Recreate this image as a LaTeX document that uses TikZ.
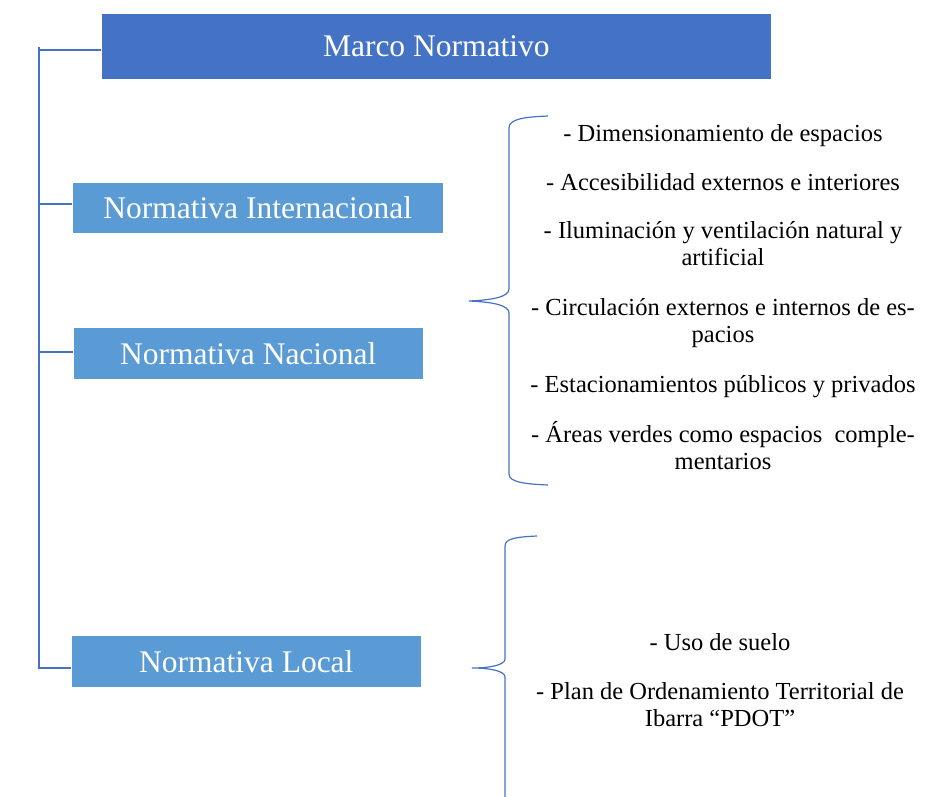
\documentclass[tikz,border=0pt]{standalone}
\usepackage{fontspec}
\setmainfont{Liberation Serif}
\usetikzlibrary{calc,positioning}
\definecolor{azulosc}{HTML}{4472C4}
\definecolor{azulcla}{HTML}{5B9BD5}

\begin{document}
\begin{tikzpicture}[x=1pt,y=-1pt,
		caja/.style={rectangle,fill=azulcla,draw=white,line width=0.6pt,text=white,inner sep=0pt,anchor=north west,font=\fontsize{31.5}{36}\selectfont},
		item/.style={align=center,anchor=base,font=\fontsize{24.5}{27}\selectfont},
		linea/.style={azulosc,line width=1.2pt}
	]
	\useasboundingbox (0,0) rectangle (945,797);
	% cajas
	\node[caja,fill=azulosc,minimum width=670pt,minimum height=66pt] (marco) at (101,13) {Marco Normativo};
	\node[caja,minimum width=371pt,minimum height=51pt] (inter) at (72,182) {Normativa Internacional};
	\node[caja,minimum width=350pt,minimum height=52pt] (nacio) at (73,327) {Normativa Nacional};
	\node[caja,minimum width=350pt,minimum height=52pt] (local) at (71,635) {Normativa Local};
	% tronco
	\coordinate (arriba) at (39,47);
	\coordinate (abajo) at (39,669);
	\coordinate (r1) at (39,50);
	\coordinate (r2) at (39,204);
	\coordinate (r3) at (39,352);
	\coordinate (r4) at (39,668);
	\draw[linea] (arriba) -- (abajo);
	\draw[linea] (r1) -- (r1 -| marco.west);
	\draw[linea] (r2) -- (r2 -| inter.west);
	\draw[linea] (r3) -- (r3 -| nacio.west);
	\draw[linea] (r4) -- (r4 -| local.west);
	% llaves
	\draw[linea] (548,116) .. controls (524,117) and (509,119) .. (509,128) -- (509,289)
		.. controls (509,297) and (492,300) .. (469,301) .. controls (492,302) and (509,305) .. (509,313)
		-- (509,474) .. controls (509,482) and (524,484) .. (548,485);
	\draw[linea] (537,536) .. controls (518,537) and (505,538) .. (505,546) -- (505,659)
		.. controls (505,665) and (490,668) .. (472,668) .. controls (490,668) and (505,671) .. (505,677)
		-- (505,797);
	% textos (base = ultima linea)
	\node[item] (t1) at (723,142) {- Dimensionamiento de espacios};
	\node[item] (t2) at (723,190) {- Accesibilidad externos e interiores};
	\node[item] (t3) at (723,265) {- Iluminación y ventilación natural y\\artificial};
	\node[item] (t4) at (723,342) {- Circulación externos e internos de es-\\pacios};
	\node[item] (t5) at (723,392) {- Estacionamientos públicos y privados};
	\node[item] (t6) at (723,469) {- Áreas verdes como espacios\ \ comple-\\mentarios};
	\node[item] (l1) at (720,650) {- Uso de suelo};
	\node[item] (l2) at (720,726) {- Plan de Ordenamiento Territorial de\\Ibarra “PDOT”};
\end{tikzpicture}
\end{document}
